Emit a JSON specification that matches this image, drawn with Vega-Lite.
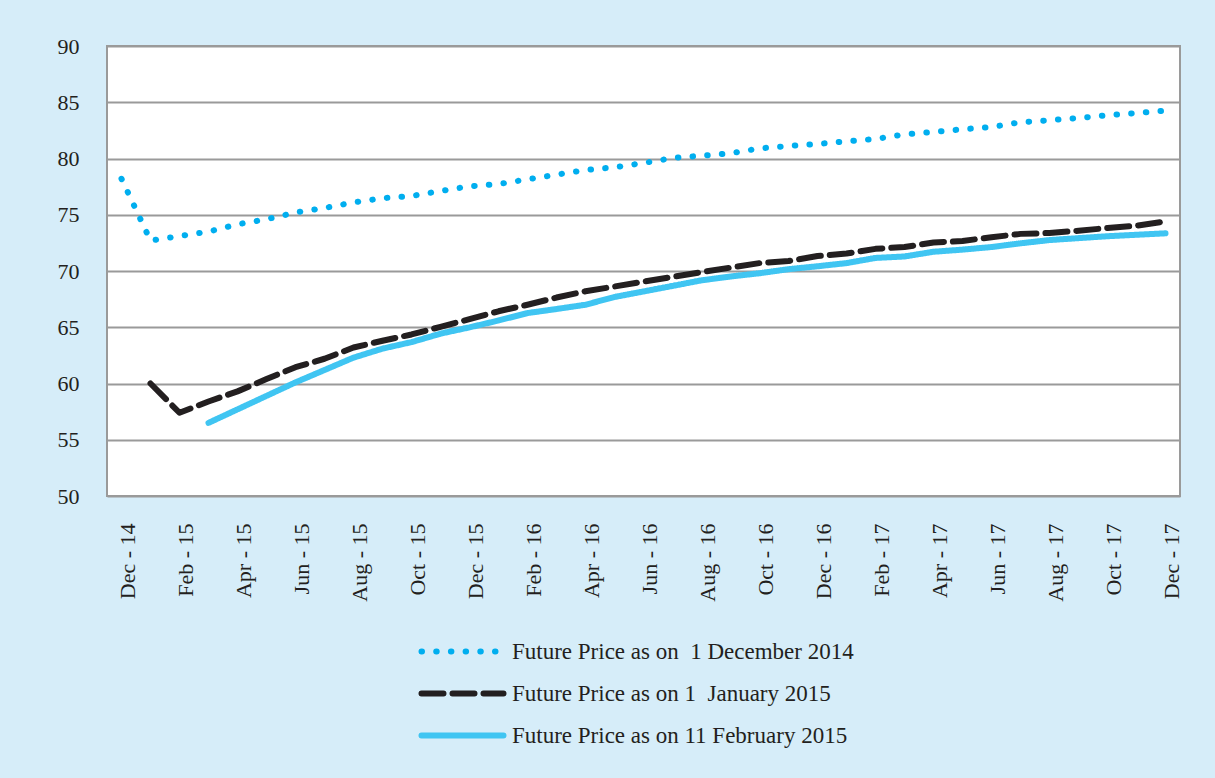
{
  "$schema": "https://vega.github.io/schema/vega-lite/v6.json",
  "width": 1073,
  "height": 450,
  "autosize": {"type": "none"},
  "padding": {"left": 107, "top": 46, "right": 35, "bottom": 282},
  "background": "#d6edf9",
  "config": {
    "font": "Liberation Serif",
    "view": {"fill": "white", "stroke": "#9a9a9a", "strokeWidth": 2},
    "axis": {"labelFont": "Liberation Serif", "labelFontSize": 22, "labelColor": "#231f20", "domain": false, "ticks": false, "title": null}
  },
  "datasets": {
    "rows": [
      {"month": "Dec - 14", "series": "s1", "price": 78.2},
      {"month": "Jan - 15", "series": "s1", "price": 72.7},
      {"month": "Feb - 15", "series": "s1", "price": 73.1},
      {"month": "Mar - 15", "series": "s1", "price": 73.5},
      {"month": "Apr - 15", "series": "s1", "price": 74.15},
      {"month": "May - 15", "series": "s1", "price": 74.6},
      {"month": "Jun - 15", "series": "s1", "price": 75.2},
      {"month": "Jul - 15", "series": "s1", "price": 75.6},
      {"month": "Aug - 15", "series": "s1", "price": 76.1},
      {"month": "Sep - 15", "series": "s1", "price": 76.47},
      {"month": "Oct - 15", "series": "s1", "price": 76.67},
      {"month": "Nov - 15", "series": "s1", "price": 77.11},
      {"month": "Dec - 15", "series": "s1", "price": 77.53},
      {"month": "Jan - 16", "series": "s1", "price": 77.73},
      {"month": "Feb - 16", "series": "s1", "price": 78.15},
      {"month": "Mar - 16", "series": "s1", "price": 78.56},
      {"month": "Apr - 16", "series": "s1", "price": 78.98},
      {"month": "May - 16", "series": "s1", "price": 79.22},
      {"month": "Jun - 16", "series": "s1", "price": 79.6},
      {"month": "Jul - 16", "series": "s1", "price": 80.04},
      {"month": "Aug - 16", "series": "s1", "price": 80.25},
      {"month": "Sep - 16", "series": "s1", "price": 80.46},
      {"month": "Oct - 16", "series": "s1", "price": 80.9},
      {"month": "Nov - 16", "series": "s1", "price": 81.11},
      {"month": "Dec - 16", "series": "s1", "price": 81.29},
      {"month": "Jan - 17", "series": "s1", "price": 81.53},
      {"month": "Feb - 17", "series": "s1", "price": 81.73},
      {"month": "Mar - 17", "series": "s1", "price": 82.15},
      {"month": "Apr - 17", "series": "s1", "price": 82.36},
      {"month": "May - 17", "series": "s1", "price": 82.6},
      {"month": "Jun - 17", "series": "s1", "price": 82.8},
      {"month": "Jul - 17", "series": "s1", "price": 83.22},
      {"month": "Aug - 17", "series": "s1", "price": 83.4},
      {"month": "Sep - 17", "series": "s1", "price": 83.6},
      {"month": "Oct - 17", "series": "s1", "price": 83.84},
      {"month": "Nov - 17", "series": "s1", "price": 84.04},
      {"month": "Dec - 17", "series": "s1", "price": 84.25},

      {"month": "Jan - 15", "series": "s2", "price": 60.0},
      {"month": "Feb - 15", "series": "s2", "price": 57.4},
      {"month": "Mar - 15", "series": "s2", "price": 58.4},
      {"month": "Apr - 15", "series": "s2", "price": 59.3},
      {"month": "May - 15", "series": "s2", "price": 60.4},
      {"month": "Jun - 15", "series": "s2", "price": 61.45},
      {"month": "Jul - 15", "series": "s2", "price": 62.2},
      {"month": "Aug - 15", "series": "s2", "price": 63.2},
      {"month": "Sep - 15", "series": "s2", "price": 63.8},
      {"month": "Oct - 15", "series": "s2", "price": 64.36},
      {"month": "Nov - 15", "series": "s2", "price": 65.04},
      {"month": "Dec - 15", "series": "s2", "price": 65.72},
      {"month": "Jan - 16", "series": "s2", "price": 66.42},
      {"month": "Feb - 16", "series": "s2", "price": 67.0},
      {"month": "Mar - 16", "series": "s2", "price": 67.64},
      {"month": "Apr - 16", "series": "s2", "price": 68.2},
      {"month": "May - 16", "series": "s2", "price": 68.62},
      {"month": "Jun - 16", "series": "s2", "price": 69.05},
      {"month": "Jul - 16", "series": "s2", "price": 69.48},
      {"month": "Aug - 16", "series": "s2", "price": 69.9},
      {"month": "Sep - 16", "series": "s2", "price": 70.3},
      {"month": "Oct - 16", "series": "s2", "price": 70.7},
      {"month": "Nov - 16", "series": "s2", "price": 70.89},
      {"month": "Dec - 16", "series": "s2", "price": 71.33},
      {"month": "Jan - 17", "series": "s2", "price": 71.55},
      {"month": "Feb - 17", "series": "s2", "price": 71.97},
      {"month": "Mar - 17", "series": "s2", "price": 72.13},
      {"month": "Apr - 17", "series": "s2", "price": 72.53},
      {"month": "May - 17", "series": "s2", "price": 72.67},
      {"month": "Jun - 17", "series": "s2", "price": 73.0},
      {"month": "Jul - 17", "series": "s2", "price": 73.3},
      {"month": "Aug - 17", "series": "s2", "price": 73.38},
      {"month": "Sep - 17", "series": "s2", "price": 73.58},
      {"month": "Oct - 17", "series": "s2", "price": 73.82},
      {"month": "Nov - 17", "series": "s2", "price": 74.03},
      {"month": "Dec - 17", "series": "s2", "price": 74.4},

      {"month": "Mar - 15", "series": "s3", "price": 56.5},
      {"month": "Apr - 15", "series": "s3", "price": 57.7},
      {"month": "May - 15", "series": "s3", "price": 58.9},
      {"month": "Jun - 15", "series": "s3", "price": 60.1},
      {"month": "Jul - 15", "series": "s3", "price": 61.2},
      {"month": "Aug - 15", "series": "s3", "price": 62.3},
      {"month": "Sep - 15", "series": "s3", "price": 63.1},
      {"month": "Oct - 15", "series": "s3", "price": 63.68},
      {"month": "Nov - 15", "series": "s3", "price": 64.43},
      {"month": "Dec - 15", "series": "s3", "price": 64.99},
      {"month": "Jan - 16", "series": "s3", "price": 65.6},
      {"month": "Feb - 16", "series": "s3", "price": 66.26},
      {"month": "Mar - 16", "series": "s3", "price": 66.62},
      {"month": "Apr - 16", "series": "s3", "price": 67.0},
      {"month": "May - 16", "series": "s3", "price": 67.69},
      {"month": "Jun - 16", "series": "s3", "price": 68.18},
      {"month": "Jul - 16", "series": "s3", "price": 68.67},
      {"month": "Aug - 16", "series": "s3", "price": 69.17},
      {"month": "Sep - 16", "series": "s3", "price": 69.51},
      {"month": "Oct - 16", "series": "s3", "price": 69.8},
      {"month": "Nov - 16", "series": "s3", "price": 70.16},
      {"month": "Dec - 16", "series": "s3", "price": 70.42},
      {"month": "Jan - 17", "series": "s3", "price": 70.7},
      {"month": "Feb - 17", "series": "s3", "price": 71.16},
      {"month": "Mar - 17", "series": "s3", "price": 71.29},
      {"month": "Apr - 17", "series": "s3", "price": 71.71},
      {"month": "May - 17", "series": "s3", "price": 71.9},
      {"month": "Jun - 17", "series": "s3", "price": 72.13},
      {"month": "Jul - 17", "series": "s3", "price": 72.46},
      {"month": "Aug - 17", "series": "s3", "price": 72.75},
      {"month": "Sep - 17", "series": "s3", "price": 72.92},
      {"month": "Oct - 17", "series": "s3", "price": 73.09},
      {"month": "Nov - 17", "series": "s3", "price": 73.22},
      {"month": "Dec - 17", "series": "s3", "price": 73.35}
    ],
    "names": [
      {"series": "s1", "label": "Future Price as on\u00a0 1 December 2014"},
      {"series": "s2", "label": "Future Price as on 1\u00a0 January 2015"},
      {"series": "s3", "label": "Future Price as on 11 February 2015"}
    ]
  },
  "data": {"name": "rows"},
  "transform": [
    {"lookup": "series", "from": {"data": {"name": "names"}, "key": "series", "fields": ["label"]}}
  ],
  "mark": {"type": "line", "strokeCap": "round", "strokeJoin": "round"},
  "encoding": {
    "x": {
      "field": "month", "type": "ordinal",
      "scale": {"type": "point", "padding": 0.5, "domain": ["Dec - 14","Jan - 15","Feb - 15","Mar - 15","Apr - 15","May - 15","Jun - 15","Jul - 15","Aug - 15","Sep - 15","Oct - 15","Nov - 15","Dec - 15","Jan - 16","Feb - 16","Mar - 16","Apr - 16","May - 16","Jun - 16","Jul - 16","Aug - 16","Sep - 16","Oct - 16","Nov - 16","Dec - 16","Jan - 17","Feb - 17","Mar - 17","Apr - 17","May - 17","Jun - 17","Jul - 17","Aug - 17","Sep - 17","Oct - 17","Nov - 17","Dec - 17"]},
      "axis": {
        "values": ["Dec - 14","Feb - 15","Apr - 15","Jun - 15","Aug - 15","Oct - 15","Dec - 15","Feb - 16","Apr - 16","Jun - 16","Aug - 16","Oct - 16","Dec - 16","Feb - 17","Apr - 17","Jun - 17","Aug - 17","Oct - 17","Dec - 17"],
        "labelAngle": -90, "labelPadding": 27, "labelOffset": 6, "grid": false
      }
    },
    "y": {
      "field": "price", "type": "quantitative",
      "scale": {"domain": [50, 90], "nice": false, "zero": false},
      "axis": {"values": [50,55,60,65,70,75,80,85,90], "grid": true, "gridColor": "#9a9a9a", "gridWidth": 2, "labelPadding": 28}
    },
    "color": {
      "field": "label", "type": "nominal",
      "scale": {"domain": ["Future Price as on\u00a0 1 December 2014", "Future Price as on 1\u00a0 January 2015", "Future Price as on 11 February 2015"], "range": ["#00aeef", "#231f20", "#40c5f2"]},
      "legend": {
        "title": null, "orient": "none", "legendX": 344, "legendY": 594,
        "direction": "vertical", "symbolType": "M-5,0H5", "symbolSize": 269,
        "symbolStrokeWidth": 5, "labelFontSize": 23, "labelFont": "Liberation Serif",
        "labelColor": "#231f20", "labelOffset": 38, "labelLimit": 0, "rowPadding": 17,
        "encode": {
          "symbols": {
            "update": {
              "strokeDash": {"signal": "datum.index === 0 ? [2, 8] : datum.index === 1 ? [10, 7] : [1, 0]"},
              "strokeCap": {"value": "round"}
            }
          }
        }
      }
    },
    "strokeDash": {
      "field": "label", "type": "nominal",
      "scale": {"domain": ["Future Price as on\u00a0 1 December 2014", "Future Price as on 1\u00a0 January 2015", "Future Price as on 11 February 2015"], "range": [[0.5, 14.2], [22, 9], [1, 0]]},
      "legend": null
    },
    "strokeWidth": {
      "field": "label", "type": "nominal",
      "scale": {"domain": ["Future Price as on\u00a0 1 December 2014", "Future Price as on 1\u00a0 January 2015", "Future Price as on 11 February 2015"], "range": [6, 6, 5]},
      "legend": null
    }
  }
}
